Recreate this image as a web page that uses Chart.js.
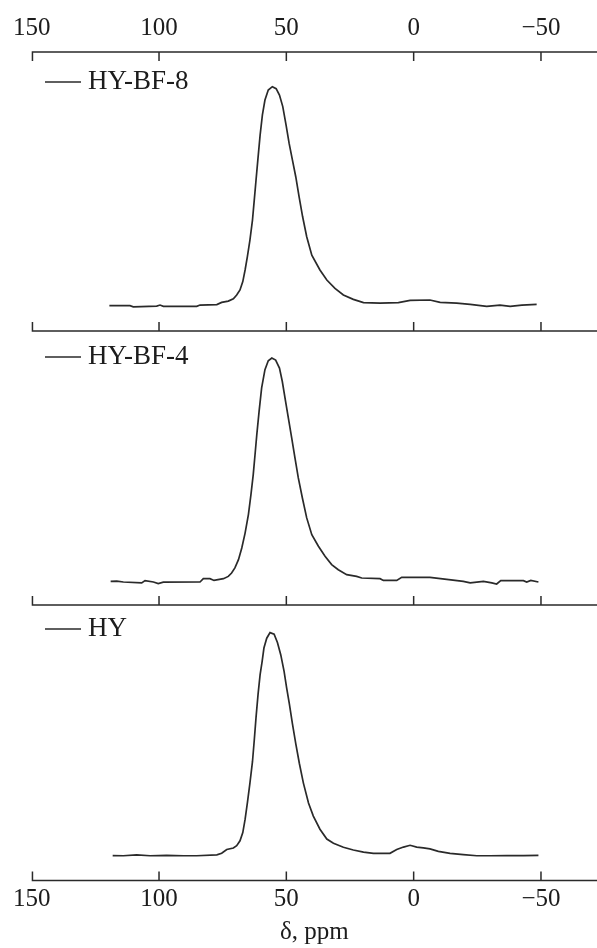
<!DOCTYPE html>
<html><head><meta charset="utf-8">
<script src="https://cdn.jsdelivr.net/npm/chart.js@4.4.0/dist/chart.umd.min.js"></script>
<style>
html,body{margin:0;padding:0;background:#fff;}
body{width:597px;height:948px;position:relative;overflow:hidden;}
canvas{position:absolute;left:0;}
</style></head><body>
<canvas id="c1" width="597" height="334" style="top:0px"></canvas>
<canvas id="c2" width="597" height="280" style="top:328px"></canvas>
<canvas id="c3" width="597" height="346" style="top:602px"></canvas>
<script>
// ---- data ----
const ppmTicks = [150, 100, 50, 0, -50];
const seriesLabels = ['HY-BF-8', 'HY-BF-4', 'HY'];
const axisTitle = 'δ, ppm';

const ppmBF8 = [119.5,111.4,110.1,100.9,99.6,98.3,85.2,83.9,77.3,75.4,72.8,70.8,69.5,68.2,67.1,66.2,65.3,64.3,63.3,62.6,61.9,61.2,60.3,59.4,58.4,57.1,55.5,54.0,52.7,51.4,50.1,48.9,47.6,46.3,45.0,43.6,42.0,40.0,36.8,34.1,30.9,27.6,23.7,19.7,13.2,6.0,1.4,-6.4,-10.4,-16.9,-22.2,-28.7,-33.9,-37.9,-42.5,-48.3];
const intBF8 = [0,0,-0.5,-0.2,0.3,-0.3,-0.3,0.3,0.5,1.5,2.1,3.2,4.9,7.2,11.0,16.3,22.4,30.0,39.1,48.2,57.4,66.5,77.9,87.1,93.9,98.5,100,99.1,96.2,90.9,82.5,74.1,66.5,58.9,49.8,40.6,31.5,23.1,16.3,11.7,7.9,4.9,2.9,1.4,1.2,1.4,2.4,2.6,1.5,1.2,0.6,-0.3,0.3,-0.3,0.3,0.6];

const ppmBF4 = [119.0,116.6,114.0,106.8,105.5,102.2,100.3,98.3,83.9,82.6,80.0,78.4,74.7,72.8,71.5,70.2,68.8,67.5,66.2,64.9,63.9,63.0,62.3,61.6,60.7,59.7,58.4,57.1,55.7,54.2,52.7,51.6,50.3,49.2,47.9,46.6,45.3,43.7,42.0,40.0,37.4,34.8,32.2,29.6,26.3,22.4,20.4,13.2,11.9,6.65,4.7,-6.4,-13.0,-19.5,-22.2,-27.4,-30.7,-32.6,-34.2,-43.1,-44.4,-46.0,-49.0];
const intBF4 = [0,0.1,-0.3,-0.7,0.3,-0.3,-1.0,-0.4,-0.3,1.2,1.2,0.4,1.2,2.2,3.7,6.0,9.7,14.9,21.6,29.9,38.8,47.8,56.7,65.7,76.1,86.6,94.8,98.8,100,99.1,95.5,89.6,80.6,73.1,64.2,55.2,46.3,37.3,28.4,20.9,15.7,11.2,7.5,5.2,3.0,2.2,1.5,1.2,0.4,0.4,1.8,1.8,0.9,0,-0.7,0,-0.7,-1.2,0.3,0.3,-0.3,0.4,-0.3];

const ppmHY = [118.2,114.0,108.8,103.5,97.0,90.4,85.2,77.3,75.4,73.4,70.8,69.5,68.2,67.1,66.2,65.3,64.3,63.3,62.6,61.9,61.1,60.3,59.5,58.8,57.7,56.4,54.8,53.5,52.2,50.9,49.9,48.8,47.6,46.3,44.9,43.3,41.3,39.4,36.8,34.1,31.5,27.6,23.7,19.7,15.8,9.3,6.65,4.0,1.4,-1.2,-3.8,-6.4,-9.7,-14.3,-19.5,-24.8,-30.0,-36.6,-43.1,-49.0];
const intHY = [0,-0.1,0.3,-0.1,0.1,-0.1,-0.1,0.3,1.0,2.7,3.4,4.4,6.6,10.3,16.2,23.6,32.5,42.1,51.7,62.0,72.4,81.2,87.1,93.1,97.5,100,99.3,95.6,90.1,82.7,75.3,67.9,59.1,50.2,41.4,32.5,23.6,17.7,11.8,7.4,5.5,3.7,2.5,1.5,1.0,1.0,2.7,3.8,4.6,3.8,3.4,3.0,1.9,1.0,0.4,-0.1,-0.1,0,0,0.1];

// ---- style ----
const FONT = '"Liberation Serif", "Times New Roman", serif';
const INK = '#1c1c1c';
const LINE = '#2a2a2a';
const X_MIN = -72, X_MAX = 150;

const fmt = v => v < 0 ? '\u2212' + Math.abs(v) : String(v);

const framePlugin = {
  id: 'frame',
  afterDatasetsDraw(chart, args, opts) {
    const {ctx, chartArea: a} = chart;
    const xs = chart.scales.x;
    ctx.save();
    ctx.strokeStyle = LINE;
    ctx.lineWidth = 1.5;
    const edges = opts.top ? [[a.top, 1], [a.bottom, -1]] : [[a.bottom, -1]];
    for (const [y, dir] of edges) {
      ctx.beginPath();
      ctx.moveTo(a.left, y); ctx.lineTo(a.right, y);
      for (const v of ppmTicks) {
        const px = Math.max(xs.getPixelForValue(v), a.left + 0.75);
        ctx.moveTo(px, y); ctx.lineTo(px, y + dir * 9);
      }
      ctx.stroke();
    }
    // legend entry
    const ds = chart.data.datasets[0];
    const ly = a.top + opts.legendOffset;
    ctx.beginPath();
    ctx.strokeStyle = ds.borderColor;
    ctx.lineWidth = 1.6;
    ctx.moveTo(45, ly); ctx.lineTo(81, ly);
    ctx.stroke();
    ctx.fillStyle = INK;
    ctx.font = '27px ' + FONT;
    ctx.textBaseline = 'middle';
    ctx.textAlign = 'left';
    ctx.fillText(ds.label, 88, ly);
    ctx.restore();
  }
};

function xScale(mode) {
  const s = {
    type: 'linear', min: X_MIN, max: X_MAX, reverse: true,
    position: mode === 'top' ? 'top' : 'bottom',
    display: mode !== 'none',
    grid: {display: false, drawTicks: false},
    border: {display: false},
    afterBuildTicks: sc => { sc.ticks = ppmTicks.map(v => ({value: v})); },
    ticks: {
      autoSkip: false, maxRotation: 0,
      font: {family: FONT, size: 25, lineHeight: 1},
      color: INK,
      padding: mode === 'top' ? 11 : 6.5,
      callback: fmt
    }
  };
  if (mode === 'bottom') {
    s.title = {display: true, text: axisTitle, color: INK,
      font: {family: FONT, size: 25, lineHeight: 1}, padding: 1};
  }
  return s;
}

function makeChart(id, xs, ys, label, yMin, yMax, mode, padding, legendOffset) {
  return new Chart(document.getElementById(id), {
    type: 'line',
    data: {datasets: [{
      label: label,
      data: xs.map((x, i) => ({x: x, y: ys[i]})),
      borderColor: LINE, borderWidth: 1.7, pointRadius: 0, tension: 0, fill: false
    }]},
    options: {
      responsive: false, animation: false, devicePixelRatio: 1,
      layout: {padding: padding},
      plugins: {legend: {display: false}, tooltip: {enabled: false},
        frame: {top: mode === 'top', legendOffset: legendOffset}},
      scales: {
        x: xScale(mode),
        y: {display: false, min: yMin, max: yMax}
      }
    },
    plugins: [framePlugin]
  });
}

makeChart('c1', ppmBF8, intBF8, seriesLabels[0], -11.55, 115.85, 'top',
  {left: 31.7, right: 0, top: 5, bottom: 3}, 30);
makeChart('c2', ppmBF4, intBF4, seriesLabels[1], -10.6, 112.1, 'none',
  {left: 31.7, right: 0, top: 3, bottom: 3}, 26);
makeChart('c3', ppmHY, intHY, seriesLabels[2], -11.2, 112.4, 'bottom',
  {left: 31.7, right: 0, top: 3, bottom: 2.5}, 24);
</script>
</body></html>
